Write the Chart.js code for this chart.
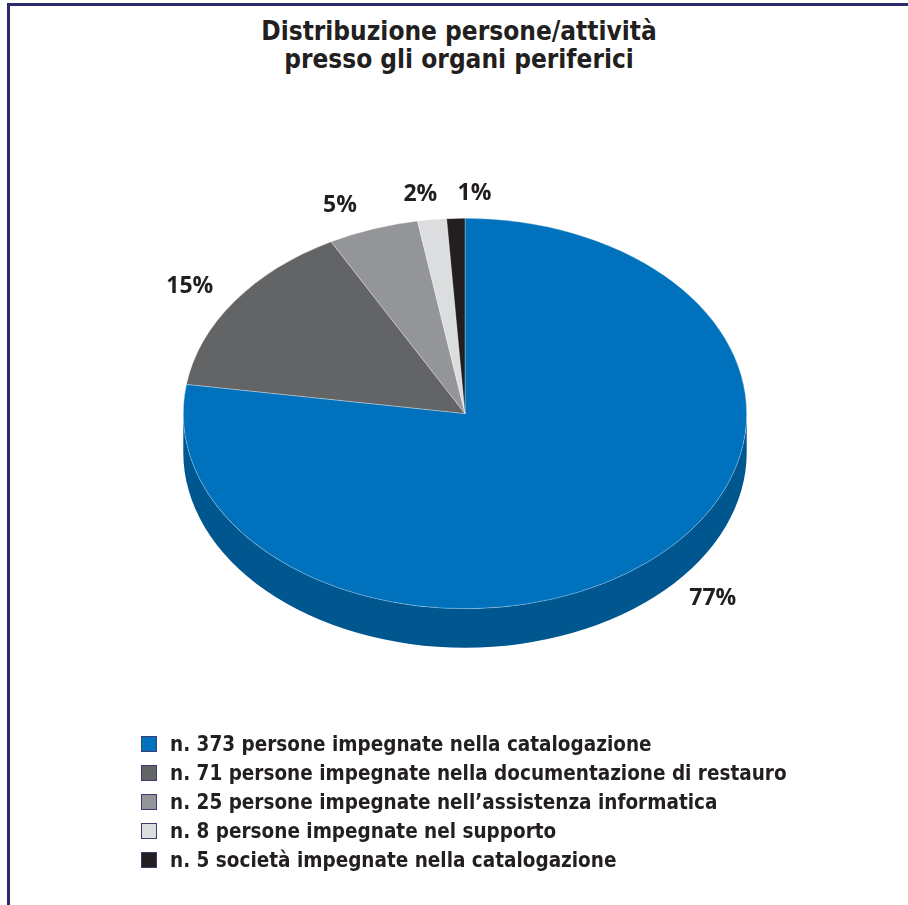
<!DOCTYPE html>
<html>
<head>
<meta charset="utf-8">
<script src="https://cdn.jsdelivr.net/npm/chart.js@4/dist/chart.umd.min.js"></script>
<style>
    html, body { margin: 0; padding: 0; background: #fff; }
    #wrap { position: relative; width: 908px; height: 905px; overflow: hidden; }
    #frame { position: absolute; left: 7px; top: 3px; width: 920px; height: 920px; border-left: 3px solid #2c2a6c; border-top: 3px solid #2c2a6c; }
    #titolo { position: absolute; left: 0; width: 918px; top: 17px; text-align: center; font: bold 26px 'DejaVu Sans Condensed', 'DejaVu Sans'; line-height: 28px; color: #231f20; }
    #legenda { position: absolute; left: 141px; top: 729px; font: bold 20.5px 'DejaVu Sans Condensed', 'DejaVu Sans'; color: #231f20; }
    .riga { height: 29px; display: flex; align-items: center; }
    .quad { width: 16px; height: 16px; border: 1px solid #3d3b72; box-sizing: border-box; margin-right: 13px; }
    canvas { position: absolute; left: 0; top: 0; }
</style>
</head>
<body>
<div id="wrap">
    <div id="frame"></div>
    <div id="titolo">Distribuzione persone/attività<br>presso gli organi periferici</div>
    <canvas id="torta" width="908" height="905"></canvas>
    <div id="legenda"></div>
</div>
<script>
// dati
const categorie = [
    'n. 373 persone impegnate nella catalogazione',
    'n. 71 persone impegnate nella documentazione di restauro',
    'n. 25 persone impegnate nell\u2019assistenza informatica',
    'n. 8 persone impegnate nel supporto',
    'n. 5 società impegnate nella catalogazione'
];
const valori = [373, 71, 25, 8, 5];
const colori = ['#0071bc', '#636466', '#939598', '#dcddde', '#231f20'];
const coloreLato = '#00568f';

// effetto 3D: schiacciamento verticale e spessore del bordo
const schiacciamento = 0.693;
const spessore = 39;
// piccoli aggiustamenti delle etichette percentuali [dx, dy]
const spostaEtichette = [[38, -21], [-12, 0], [-20, 0], [-7, 0], [20, 0]];

const totale = valori.reduce((a, b) => a + b, 0);
const percentuali = valori.map(v => Math.round(v / totale * 100) + '%');

// legenda html
const leg = document.getElementById('legenda');
categorie.forEach((c, i) => {
    leg.insertAdjacentHTML('beforeend',
        `<div class="riga"><div class="quad" style="background:${colori[i]}"></div><span>${c}</span></div>`);
});

const torta3d = {
    id: 'torta3d',
    beforeDatasetsDraw(chart) {
        const ctx = chart.ctx;
        const archi = chart.getDatasetMeta(0).data;
        const { x, y, outerRadius: r } = archi[0];
        ctx.save();
        ctx.translate(x, y);
        ctx.scale(1, schiacciamento);
        ctx.translate(-x, -y);
        const d = spessore / schiacciamento;
        // lato visibile (meta inferiore, angoli 0..PI)
        archi.forEach((a, i) => {
            const s = Math.max(a.startAngle, 0);
            const e = Math.min(a.endAngle, Math.PI);
            if (e <= s) return;
            ctx.beginPath();
            ctx.arc(x, y, r, s, e);
            ctx.arc(x, y + d, r, e, s, true);
            ctx.closePath();
            ctx.fillStyle = i === 0 ? coloreLato : colori[i];
            ctx.fill();
        });
    },
    afterDatasetsDraw(chart) {
        const ctx = chart.ctx;
        ctx.restore();
        const archi = chart.getDatasetMeta(0).data;
        ctx.save();
        ctx.font = "bold 23px 'Open Sans'";
        ctx.fillStyle = '#231f20';
        ctx.textAlign = 'center';
        ctx.textBaseline = 'middle';
        archi.forEach((a, i) => {
            const m = (a.startAngle + a.endAngle) / 2;
            const c = Math.cos(m), s = Math.sin(m);
            let lx = a.x + (a.outerRadius + 40) * c;
            let ly = a.y + (a.outerRadius * schiacciamento + 25) * s;
            if (s > 0) ly += spessore;
            lx += spostaEtichette[i][0];
            ly += spostaEtichette[i][1];
            ctx.fillText(percentuali[i], lx, ly);
        });
        ctx.restore();
    }
};

new Chart(document.getElementById('torta'), {
    type: 'pie',
    data: {
        labels: categorie,
        datasets: [{
            data: valori,
            backgroundColor: colori,
            borderColor: 'rgba(255,255,255,0.6)',
            borderWidth: 0.6,
            clip: false
        }]
    },
    options: {
        responsive: false,
        animation: false,
        layout: { padding: { left: 183, right: 161, top: 131, bottom: 209 } },
        plugins: { legend: { display: false }, tooltip: { enabled: false } }
    },
    plugins: [torta3d]
});
</script>
</body>
</html>
